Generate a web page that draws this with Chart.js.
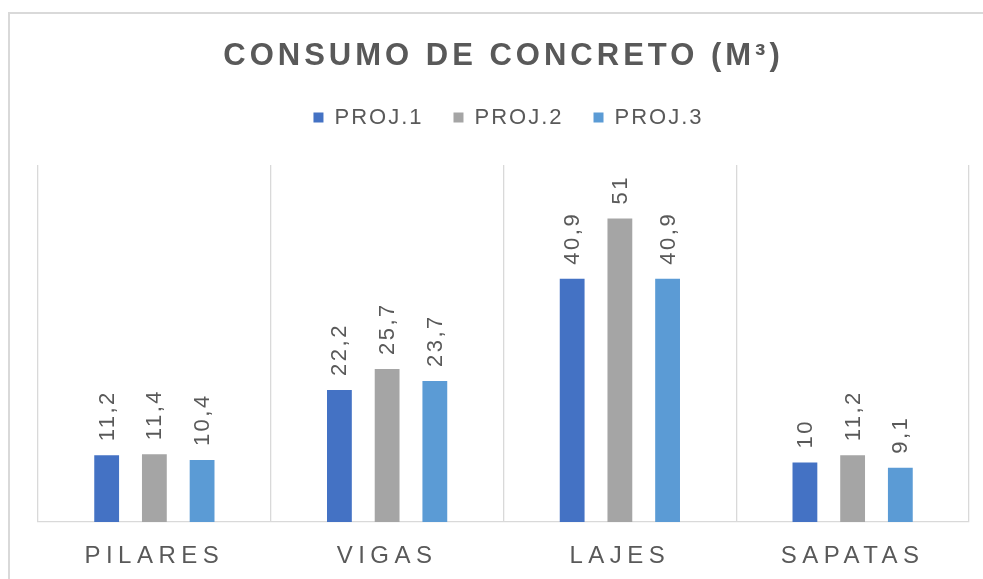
<!DOCTYPE html>
<html>
<head>
<meta charset="utf-8">
<script src="https://cdn.jsdelivr.net/npm/chart.js@4.4.0/dist/chart.umd.min.js"></script>
<style>
  html, body { margin: 0; padding: 0; background: #fff; overflow: hidden; }
  #frame { position: absolute; left: 8px; top: 12px; width: 1100px; height: 700px; border: 2px solid #d9d9d9; box-sizing: border-box; }
  #wrap { position: absolute; left: 0; top: 0; width: 983px; height: 579px; }
</style>
</head>
<body>
<div id="frame"></div>
<div id="wrap"><canvas id="c" width="983" height="579"></canvas></div>
<script>
const categories = ['PILARES', 'VIGAS', 'LAJES', 'SAPATAS'];
const seriesNames = ['PROJ.1', 'PROJ.2', 'PROJ.3'];
const proj1 = [11.2, 22.2, 40.9, 10];
const proj2 = [11.4, 25.7, 51, 11.2];
const proj3 = [10.4, 23.7, 40.9, 9.1];
const colors = ['#4472C4', '#A5A5A5', '#5B9BD5'];
const titleText = 'CONSUMO DE CONCRETO (M³)';
const TEXT = '#595959';
const FONT = "'Liberation Sans', Arial, sans-serif";

const PLOT_TOP = 165;
const PLOT_BOTTOM = 522;
const CANVAS_H = 579;

function wrapSpacing(obj, method, sp, after, dx) {
  const orig = obj[method];
  if (!orig || orig.__sp) return;
  const fn = function (...args) {
    const ctx = this.ctx || (this.chart && this.chart.ctx);
    ctx.save();
    ctx.letterSpacing = sp;
    if (dx) ctx.translate(dx, 0);
    try {
      const r = orig.apply(this, args);
      if (after) after(this);
      return r;
    } finally { ctx.restore(); }
  };
  fn.__sp = true;
  obj[method] = fn;
}

const spacingPlugin = {
  id: 'spacing',
  beforeLayout(chart) {
    const tb = chart.titleBlock;
    if (tb) wrapSpacing(tb, 'draw', '4px');
    if (chart.legend) {
      wrapSpacing(chart.legend, 'fit', '2px', (lg) => {
        const t = chart.options.plugins.title;
        const titleH = t.padding.top + t.padding.bottom + t.font.size * 1.2;
        lg.height = PLOT_TOP - titleH;
      });
      wrapSpacing(chart.legend, 'draw', '2px', null, 5);
    }
    if (chart.scales && chart.scales.x) wrapSpacing(chart.scales.x, 'drawLabels', '5.5px');
  }
};

const labelPlugin = {
  id: 'barLabels',
  afterDatasetsDraw(chart) {
    const ctx = chart.ctx;
    chart.data.datasets.forEach((ds, i) => {
      const meta = chart.getDatasetMeta(i);
      meta.data.forEach((bar, j) => {
        const txt = String(ds.data[j]).replace('.', ',');
        ctx.save();
        ctx.letterSpacing = '2.5px';
        ctx.font = '22px ' + FONT;
        ctx.fillStyle = TEXT;
        ctx.translate(bar.x, bar.y - 14);
        ctx.rotate(-Math.PI / 2);
        ctx.textAlign = 'left';
        ctx.textBaseline = 'middle';
        ctx.fillText(txt, 0, 1);
        ctx.restore();
      });
    });
  }
};

new Chart(document.getElementById('c'), {
  type: 'bar',
  data: {
    labels: categories,
    datasets: [proj1, proj2, proj3].map((d, i) => ({
      label: seriesNames[i],
      data: d,
      backgroundColor: colors[i],
      borderWidth: 0,
      categoryPercentage: 0.615,
      barPercentage: 0.52
    }))
  },
  options: {
    responsive: false,
    animation: false,
    events: [],
    layout: { padding: { left: 38, right: 14, top: 0, bottom: 0 } },
    plugins: {
      title: {
        display: true,
        text: titleText,
        color: TEXT,
        font: { family: FONT, size: 31, weight: 'bold' },
        padding: { top: 37.8, bottom: 1.5 }
      },
      legend: {
        display: true,
        position: 'top',
        labels: {
          boxWidth: 10,
          boxHeight: 10,
          padding: 30,
          color: TEXT,
          font: { family: FONT, size: 22 }
        }
      },
      tooltip: { enabled: false }
    },
    scales: {
      x: {
        grid: { display: true, offset: true, color: '#d9d9d9', lineWidth: 1.3, drawTicks: false },
        border: { display: true, color: '#d9d9d9', width: 1.3 },
        ticks: { color: TEXT, font: { family: FONT, size: 24 }, padding: 20 },
        afterFit: (s) => { s.height = CANVAS_H - PLOT_BOTTOM; }
      },
      y: {
        display: false,
        min: 0,
        max: 60
      }
    }
  },
  plugins: [spacingPlugin, labelPlugin]
});
</script>
</body>
</html>
